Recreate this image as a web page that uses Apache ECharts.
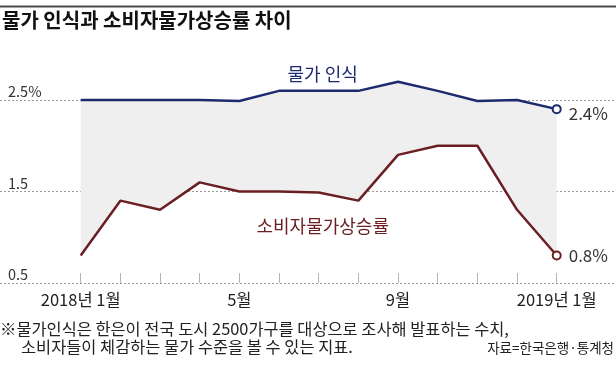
<!DOCTYPE html>
<html><head><meta charset="utf-8">
<script src="https://cdn.jsdelivr.net/npm/echarts@6/dist/echarts.min.js"></script>
<style>html,body{margin:0;padding:0;background:#fff}#c{width:616px;height:365px}</style>
</head><body><div id="c"></div>
<script>
const months = ['2018년 1월','2월','3월','4월','5월','6월','7월','8월','9월','10월','11월','12월','2019년 1월'];
const perceived = [2.5,2.5,2.5,2.5,2.49,2.6,2.6,2.6,2.7,2.6,2.49,2.5,2.4];
const cpi = [0.8,1.4,1.3,1.6,1.5,1.5,1.49,1.4,1.9,2.0,2.0,1.3,0.8];
const yTicks = [0.5,1.5,2.5];
const titleText = '물가 인식과 소비자물가상승률 차이';
const note1 = '※물가인식은 한은이 전국 도시 2500가구를 대상으로 조사해 발표하는 수치,';
const note2 = '소비자들이 체감하는 물가 수준을 볼 수 있는 지표.';
const sourceText = '자료=한국은행·통계청';
const perceivedName = '물가 인식';
const cpiName = '소비자물가상승률';

const FONT = "'Noto Sans CJK KR', 'Noto Sans', sans-serif";
const BLUE = '#1d2b6e';
const RED = '#6a1f22';
const last = months.length - 1;
const labelIdx = 6;

function lineData(vals, color, nameLabel, namePos, nameDist, endOffset) {
  return vals.map((v, i) => {
    if (i === labelIdx) {
      return {value: v, label: {show: true, formatter: nameLabel, position: namePos, distance: nameDist, offset: [4, 0], color: color, fontSize: 18, fontFamily: FONT}};
    }
    if (i === last) {
      return {value: v, label: {show: true, formatter: v.toFixed(1) + '%', position: 'right', distance: 7, offset: endOffset, color: '#333', fontSize: 17, fontFamily: FONT}};
    }
    return v;
  });
}

const chart = echarts.init(document.getElementById('c'), null, {renderer: 'canvas'});
const gTop = 54.25, gBottom = 82;
chart.setOption({
  animation: false,
  backgroundColor: '#fff',
  textStyle: {fontFamily: FONT},
  graphic: [{type: 'rect', shape: {x: 0, y: 5.5, width: 616, height: 2}, style: {fill: '#4a4a4a'}, silent: true}],
  title: [
    {text: titleText, left: 2, top: 10, padding: 0, textStyle: {fontSize: 20, fontWeight: 'bold', color: '#111', fontFamily: FONT}},
    {text: note1, left: 0, top: 321, padding: 0, textStyle: {fontSize: 16.4, fontWeight: 'normal', color: '#222', fontFamily: FONT}},
    {text: note2, left: 21, top: 339, padding: 0, textStyle: {fontSize: 16.4, fontWeight: 'normal', color: '#222', fontFamily: FONT}},
    {text: sourceText, right: 2, top: 341, padding: 0, textStyle: {fontSize: 13.5, fontWeight: 'normal', color: '#222', fontFamily: FONT}}
  ],
  grid: [
    {left: 80.7, right: 59.3, top: gTop, bottom: gBottom},
    {left: 0, right: 0, top: gTop, bottom: gBottom}
  ],
  xAxis: [
    {type: 'category', gridIndex: 0, data: months, boundaryGap: false,
     axisLine: {show: false},
     axisTick: {show: true, inside: true, length: 10, interval: 0, lineStyle: {color: '#b5b5b5', width: 1}},
     axisLabel: {interval: 3, fontSize: 16.5, color: '#222', margin: 8, fontFamily: FONT},
     splitLine: {show: false}},
    {type: 'value', gridIndex: 1, min: 0, max: 1, show: false}
  ],
  yAxis: [
    {type: 'value', gridIndex: 0, min: 0.5, max: 3, show: false, splitLine: {show: false}},
    {type: 'value', gridIndex: 1, min: 0.5, max: 3, interval: 1,
     axisLine: {show: false}, axisTick: {show: false},
     splitLine: {show: true, showMaxLine: false, lineStyle: {color: '#9a9a9a', type: [2, 2], width: 1}},
     axisLabel: {inside: true, align: 'left', verticalAlign: 'bottom', margin: 8, showMaxLabel: false,
       fontSize: 14.5, color: '#333', fontFamily: FONT, padding: [0, 0, 1, 0],
       formatter: v => yTicks.includes(v) ? (v === 2.5 ? v.toFixed(1) + '%' : v.toFixed(1)) : ''}}
  ],
  series: [
    {type: 'line', name: 'base', xAxisIndex: 0, yAxisIndex: 0, stack: 'band', data: cpi,
     symbol: 'none', lineStyle: {opacity: 0}, silent: true, z: 1},
    {type: 'line', name: 'band', xAxisIndex: 0, yAxisIndex: 0, stack: 'band',
     data: perceived.map((v, i) => +(v - cpi[i]).toFixed(4)),
     symbol: 'none', lineStyle: {opacity: 0}, areaStyle: {color: '#efefef', opacity: 1}, silent: true, z: 1},
    {type: 'line', name: perceivedName, xAxisIndex: 0, yAxisIndex: 0,
     data: lineData(perceived, BLUE, perceivedName, 'top', 8, [0, 4]),
     symbol: 'emptyCircle', showAllSymbol: true,
     symbolSize: (v, p) => p.dataIndex === last ? 8 : 0,
     itemStyle: {color: BLUE, borderColor: BLUE, borderWidth: 2},
     lineStyle: {color: BLUE, width: 2.5}, z: 3},
    {type: 'line', name: cpiName, xAxisIndex: 0, yAxisIndex: 0,
     data: lineData(cpi, RED, cpiName, 'bottom', 25, [0, 0]),
     symbol: 'emptyCircle', showAllSymbol: true,
     symbolSize: (v, p) => p.dataIndex === last ? 8 : 0,
     itemStyle: {color: RED, borderColor: RED, borderWidth: 2},
     lineStyle: {color: RED, width: 2.5}, z: 3}
  ]
});
</script></body></html>
